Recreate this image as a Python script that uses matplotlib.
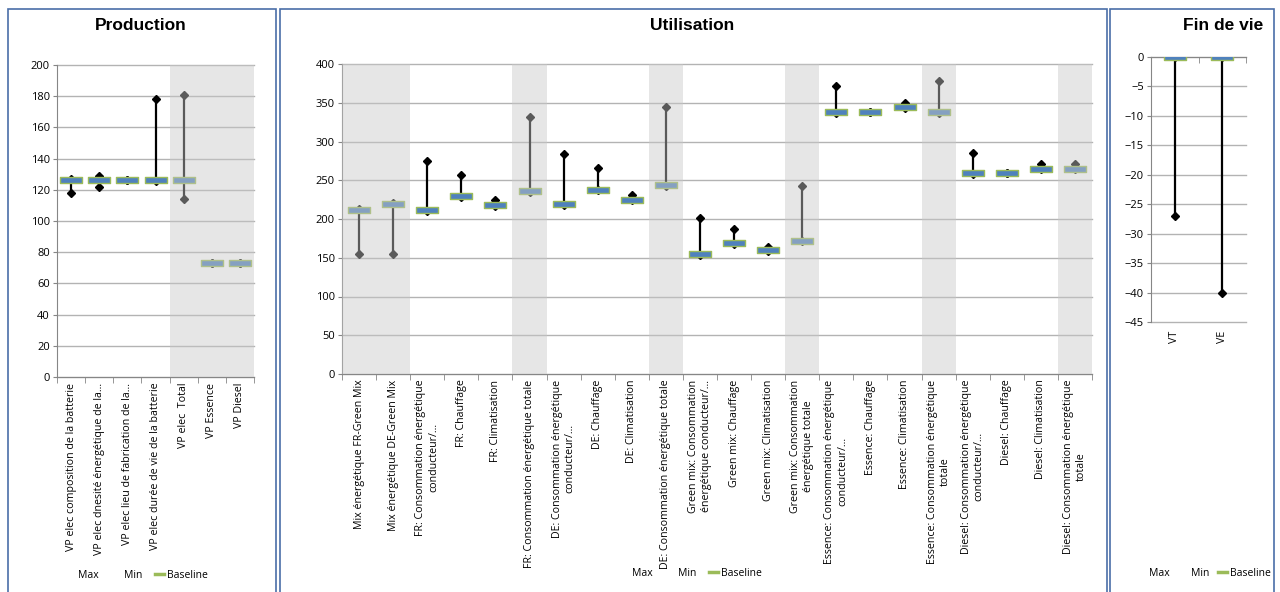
import matplotlib
matplotlib.use("Agg")
import matplotlib.pyplot as plt
from matplotlib.path import Path
from matplotlib.lines import Line2D
from matplotlib.patches import Rectangle

plt.rcParams['font.family'] = ['Open Sans', 'DejaVu Sans']

# ---------------- data ----------------
prod_labels = ["VP elec composition de la batterie",
               "VP elec dnesité énergétique de la…",
               "VP elec lieu de fabrication de la…",
               "VP elec durée de vie de la batterie",
               "VP elec  Total", "VP Essence", "VP Diesel"]
prod_base = [126, 126, 126, 126, 126, 73, 73]
prod_max = [127, 129, 126, 178, 181, 73, 73]
prod_min = [118, 122, 126, 125.5, 114, 73, 73]
prod_shaded = [4, 5, 6]

use_labels = ["Mix énergétique FR-Green Mix",
              "Mix énergétique DE-Green Mix",
              "FR: Consommation énergétique\nconducteur/…",
              "FR: Chauffage",
              "FR: Climatisation",
              "FR: Consommation énergétique totale",
              "DE: Consommation énergétique\nconducteur/…",
              "DE: Chauffage",
              "DE: Climatisation",
              "DE: Consommation énergétique totale",
              "Green mix: Consommation\nénergétique conducteur/…",
              "Green mix: Chauffage",
              "Green mix: Climatisation",
              "Green mix: Consommation\nénergétique totale",
              "Essence: Consommation énergétique\nconducteur/…",
              "Essence: Chauffage",
              "Essence: Climatisation",
              "Essence: Consommation énergétique\ntotale",
              "Diesel: Consommation énergétique\nconducteur/…",
              "Diesel: Chauffage",
              "Diesel: Climatisation",
              "Diesel: Consommation énergétique\ntotale"]
use_base = [211, 219, 211, 230, 218, 236, 219, 238, 225, 244,
            155, 169, 160, 172, 338, 338, 344, 338, 259, 259, 265, 265]
use_max = [213, 221, 275, 257, 224, 332, 284, 266, 231, 344,
           201, 187, 164, 243, 372, 338, 350, 378, 285, 259, 271, 271]
use_min = [155, 155, 210, 229, 217, 235, 218, 237, 224, 243,
           154, 168, 159, 171, 337, 338, 343, 337, 258, 259, 264, 264]
use_shaded = [0, 1, 5, 9, 13, 17, 21]

fin_labels = ["VT", "VE"]
fin_base = [0, 0]
fin_max = [0, 0]
fin_min = [-27, -40]

# ---------------- style ----------------
W, H = 1280, 592
fig = plt.figure(figsize=(W / 100, H / 100), dpi=100)

BLUE = '#4F81BD'
GREEN = '#9BBB59'
GRID = '#b3b3b3'
AXC = '#868686'
FRAME = '#4a6ea8'

rect_marker = Path([(-1, -0.24), (1, -0.24), (1, 0.24), (-1, 0.24), (-1, -0.24)],
                   [Path.MOVETO, Path.LINETO, Path.LINETO, Path.LINETO, Path.CLOSEPOLY])


def fig_axes(x0, x1, ytop, ybot):
    return fig.add_axes([x0 / W, 1 - ybot / H, (x1 - x0) / W, (ybot - ytop) / H])


def draw_panel(ax, labels, base, mx, mn, shaded, ylim, yticks, lblsize=7.7, axis_top=False):
    n = len(labels)
    x = list(range(n))
    ax.set_xlim(-0.5, n - 0.5)
    ax.set_ylim(*ylim)
    for yv in yticks:
        ax.axhline(yv, color=GRID, lw=1.0, zorder=0.5, clip_on=False)
    ax.vlines(x, mn, mx, color='black', lw=1.6, zorder=2)
    ax.plot(x, mx, ls='none', marker='D', ms=3.7, color='black', zorder=2)
    ax.plot(x, mn, ls='none', marker='D', ms=3.7, color='black', zorder=2)
    ax.plot(x, base, ls='none', marker=rect_marker, ms=15.5, mfc=BLUE, mec=GREEN,
            mew=1.0, zorder=3)
    for i in shaded:
        ax.axvspan(i - 0.5, i + 0.5, color='#c8c8c8', alpha=0.45, lw=0, zorder=4)
    ax.set_yticks(yticks)
    ax.tick_params(axis='y', length=3, color=AXC, labelsize=8, pad=2,
                   labelcolor='black')
    ax.set_xticks(x)
    ax.set_xticklabels(labels, rotation=90, fontsize=lblsize, ha='center', va='top',
                       multialignment='center', linespacing=1.25)
    ax.set_xticks([i - 0.5 for i in range(n + 1)], minor=True)
    ax.spines['right'].set_visible(False)
    ax.spines['left'].set_color(AXC)
    if axis_top:
        ax.spines['bottom'].set_visible(False)
        ax.spines['top'].set_color(AXC)
        ax.tick_params(axis='x', which='major', length=0, pad=6)
        ax.tick_params(axis='x', which='minor', bottom=False, top=True,
                       direction='in', length=4, color=AXC)
    else:
        ax.spines['top'].set_visible(False)
        ax.spines['bottom'].set_color(AXC)
        ax.tick_params(axis='x', which='major', length=0, pad=4)
        ax.tick_params(axis='x', which='minor', length=4, color=AXC)
    ax.set_facecolor('none')


def legend(cx, cy, colsp=1.2):
    handles = [Line2D([], [], ls='none'), Line2D([], [], ls='none'),
               Line2D([], [], color=GREEN, lw=2.5)]
    fig.legend(handles, ['Max', 'Min', 'Baseline'], loc='center',
               bbox_to_anchor=(cx / W, 1 - cy / H), ncol=3, frameon=False,
               fontsize=7.5, handlelength=0.9, handletextpad=0.3, columnspacing=colsp,
               borderaxespad=0)


TITLE_FONT = ['Liberation Sans', 'DejaVu Sans']

# frames
for (x0, x1) in [(8, 276), (280, 1107), (1110, 1274)]:
    fig.add_artist(Rectangle((x0 / W, -0.05), (x1 - x0) / W, 1.05 - 9 / H,
                             transform=fig.transFigure, fill=False,
                             edgecolor=FRAME, lw=1.2))

# Production
ax1 = fig_axes(57, 254, 65, 377)
draw_panel(ax1, prod_labels, prod_base, prod_max, prod_min, prod_shaded,
           (0, 200), list(range(0, 201, 20)))
fig.text(141 / W, 1 - 25 / H, 'Production', ha='center', va='center',
         fontsize=12.5, fontweight='bold', family=TITLE_FONT)
legend(137, 575)

# Utilisation
ax2 = fig_axes(342, 1092, 64, 374)
draw_panel(ax2, use_labels, use_base, use_max, use_min, use_shaded,
           (0, 400), list(range(0, 401, 50)))
fig.text(692 / W, 1 - 25 / H, 'Utilisation', ha='center', va='center',
         fontsize=12.5, fontweight='bold', family=TITLE_FONT)
legend(691, 573)

# Fin de vie
ax3 = fig_axes(1151, 1246, 57, 322)
draw_panel(ax3, fin_labels, fin_base, fin_max, fin_min, [],
           (-45, 0), list(range(-45, 1, 5)), axis_top=True)
fig.text(1223 / W, 1 - 25 / H, 'Fin de vie', ha='center', va='center',
         fontsize=12.5, fontweight='bold', family=TITLE_FONT)
legend(1204, 573, colsp=0.8)

fig.savefig('out.png', dpi=100, facecolor='white')
